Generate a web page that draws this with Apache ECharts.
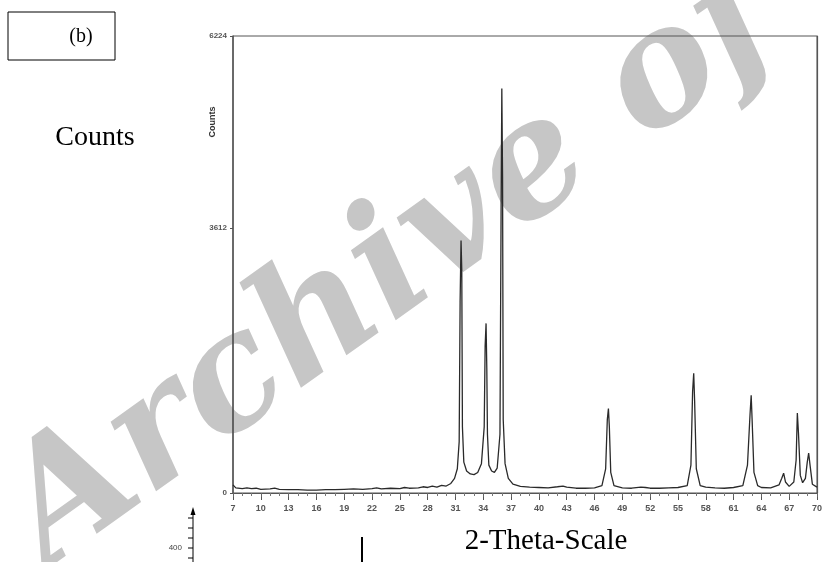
<!DOCTYPE html>
<html><head><meta charset="utf-8">
<script src="https://cdn.jsdelivr.net/npm/echarts@6/dist/echarts.min.js"></script>
<style>html,body{margin:0;padding:0;background:#fff}#c{width:825px;height:562px}</style>
</head><body><div id="c"></div>
<script>
const twoTheta = [7.0,7.3,8.0,8.5,9.0,9.5,10.0,11.0,11.5,12.0,13.0,14.0,15.0,16.0,17.0,18.0,19.0,20.0,21.0,22.0,22.5,23.0,24.0,25.0,25.5,26.0,27.0,27.5,28.0,28.5,29.0,29.5,30.0,30.5,30.9,31.2,31.4,31.5,31.6,31.68,31.75,31.9,32.2,32.6,33.0,33.4,33.8,34.1,34.2,34.3,34.38,34.45,34.6,34.9,35.2,35.5,35.8,35.92,36.0,36.08,36.15,36.35,36.7,37.2,38.0,39.0,40.0,41.0,42.0,42.6,43.0,44.0,45.0,46.0,46.8,47.2,47.38,47.5,47.6,47.75,48.1,49.0,50.0,51.0,51.5,52.0,53.0,54.0,55.0,56.0,56.4,56.58,56.7,56.8,56.98,57.4,58.0,59.0,60.0,61.0,62.0,62.5,62.78,62.9,63.0,63.2,63.6,64.0,65.0,65.9,66.2,66.4,66.6,67.0,67.5,67.75,67.88,68.0,68.2,68.45,68.75,68.95,69.1,69.25,69.5,70.0];
const counts   = [110,70,60,70,60,65,50,55,65,50,45,45,40,40,45,45,50,55,50,60,70,55,65,60,75,65,70,85,75,95,80,105,95,130,200,330,700,2600,3440,3040,900,420,300,260,250,280,400,900,2000,2310,1700,800,380,300,280,340,800,3800,5510,4300,1000,400,200,120,90,80,75,70,85,95,80,65,65,70,100,330,1000,1150,900,280,100,70,65,80,75,65,65,70,75,100,380,1380,1630,1250,330,100,80,70,65,75,100,380,1080,1330,1000,280,100,75,70,110,200,270,150,90,150,450,1090,820,240,140,200,420,545,380,120,80];
const xMin = 7, xMax = 70, xStep = 3;
const yTickValues = [0, 3612, 6224];
const yMax = 6224;

const chart = echarts.init(document.getElementById('c'), null, {renderer: 'canvas'});
const pts = twoTheta.map((t, i) => [t, counts[i]]);
const tickFont = {fontSize: 9, color: '#555', fontWeight: 'bold', fontFamily: 'Arial, "Liberation Sans", sans-serif'};
chart.setOption({
  animation: false,
  backgroundColor: '#fff',
  grid: {left: 233, right: 3, top: 36, bottom: 69, show: true, borderColor: '#555', borderWidth: 1},
  xAxis: [{
    type: 'value', min: xMin, max: xMax, interval: xStep, position: 'bottom',
    axisLine: {show: true, lineStyle: {color: '#555', width: 1.2}},
    axisTick: {show: true, length: 7, lineStyle: {color: '#555'}},
    minorTick: {show: true, splitNumber: 3, length: 3, lineStyle: {color: '#777'}},
    splitLine: {show: false},
    axisLabel: Object.assign({margin: 11, formatter: v => String(v)}, tickFont)
  }, {
    type: 'value', min: xMin, max: xMax, interval: xStep, position: 'top',
    axisLine: {show: true, lineStyle: {color: '#555', width: 1.2}},
    axisTick: {show: true, inside: true, length: 4, lineStyle: {color: '#666'}},
    minorTick: {show: false},
    splitLine: {show: false},
    axisLabel: {show: false}
  }],
  yAxis: [{
    type: 'value', min: 0, max: yMax, position: 'left',
    axisLine: {show: true, lineStyle: {color: '#555', width: 1.5}},
    axisTick: {show: true, length: 3, customValues: yTickValues, lineStyle: {color: '#555'}},
    splitLine: {show: false},
    axisLabel: Object.assign({customValues: yTickValues, margin: 6, formatter: v => String(v)}, tickFont, {fontSize: 8})
  }, {
    type: 'value', min: 0, max: yMax, position: 'right',
    axisLine: {show: true, lineStyle: {color: '#555', width: 1.2}},
    axisTick: {show: false}, axisLabel: {show: false}, splitLine: {show: false}
  }],
  series: [{
    type: 'line', xAxisIndex: 0, yAxisIndex: 0, data: pts, symbol: 'none', z: 5,
    lineStyle: {color: '#2a2a2a', width: 1.3}
  }],
  graphic: [
    {type: 'text', z: -10, x: 70, y: 600, rotation: 0.62,
     style: {text: 'Archive of SID', font: 'italic bold 160px "DejaVu Serif", serif', fill: '#c6c6c6', textAlign: 'left', textVerticalAlign: 'bottom'}},
    {type: 'rect', shape: {x: 8, y: 12, width: 107, height: 48}, style: {fill: 'none', stroke: '#000', lineWidth: 1}},
    {type: 'text', x: 81, y: 37, style: {text: '(b)', font: '20px "Liberation Serif", serif', fill: '#000', textAlign: 'center', textVerticalAlign: 'middle'}},
    {type: 'text', x: 95, y: 138, style: {text: 'Counts', font: '28px "Liberation Serif", serif', fill: '#000', textAlign: 'center', textVerticalAlign: 'middle'}},
    {type: 'text', x: 213, y: 122, rotation: Math.PI / 2, style: {text: 'Counts', font: 'bold 9px Arial, sans-serif', fill: '#333', textAlign: 'center', textVerticalAlign: 'middle'}},
    {type: 'text', x: 546, y: 541, style: {text: '2-Theta-Scale', font: '29px "Liberation Serif", serif', fill: '#000', textAlign: 'center', textVerticalAlign: 'middle'}},
    {type: 'line', shape: {x1: 362, y1: 537, x2: 362, y2: 562}, style: {stroke: '#000', lineWidth: 2}},
    {type: 'line', shape: {x1: 193, y1: 512, x2: 193, y2: 562}, style: {stroke: '#000', lineWidth: 1}},
    {type: 'polygon', shape: {points: [[193, 507], [190.5, 515], [195.5, 515]]}, style: {fill: '#000'}},
    {type: 'line', shape: {x1: 188, y1: 518, x2: 193, y2: 518}, style: {stroke: '#000', lineWidth: 1}},
    {type: 'line', shape: {x1: 188, y1: 528, x2: 193, y2: 528}, style: {stroke: '#000', lineWidth: 1}},
    {type: 'line', shape: {x1: 188, y1: 538, x2: 193, y2: 538}, style: {stroke: '#000', lineWidth: 1}},
    {type: 'line', shape: {x1: 188, y1: 548, x2: 193, y2: 548}, style: {stroke: '#000', lineWidth: 1}},
    {type: 'line', shape: {x1: 188, y1: 558, x2: 193, y2: 558}, style: {stroke: '#000', lineWidth: 1}},
    {type: 'text', x: 182, y: 548, style: {text: '400', font: '8px Arial, sans-serif', fill: '#444', textAlign: 'right', textVerticalAlign: 'middle'}}
  ]
});
</script>
</body></html>
